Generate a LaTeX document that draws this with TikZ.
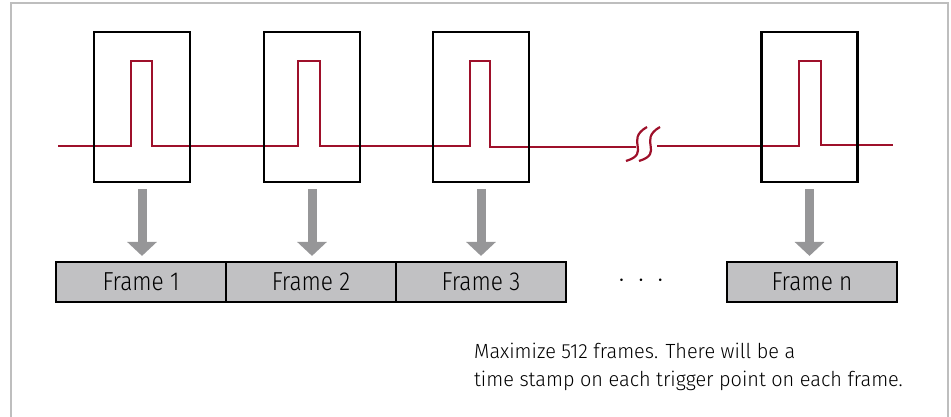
\documentclass[tikz,border=0pt]{standalone}
\usepackage{fontspec}
\setmainfont{Fira Sans Light}[FakeStretch=0.97]
\newfontfamily\framefont{Fira Sans Light}[FakeStretch=0.87]
\usetikzlibrary{arrows.meta}
\definecolor{sigred}{RGB}{158,16,42}
\definecolor{arrgray}{RGB}{150,150,152}
\definecolor{framefill}{RGB}{193,193,195}
\definecolor{bordergray}{RGB}{190,190,190}
\tikzset{
  winbox/.style={draw=black, line width=2.6pt, minimum width=96pt, minimum height=150pt, inner sep=0pt},
  framebox/.style={draw=black, line width=2.2pt, fill=framefill, minimum width=170pt, minimum height=40pt, inner sep=0pt, font=\framefont\fontsize{26}{28}\selectfont},
  sig/.style={draw=sigred, line width=2.4pt},
  downarrow/.style={draw=arrgray, line width=9pt, -{Triangle[width=29pt,length=14pt]}},
  caption/.style={anchor=base west, inner sep=0pt, font=\fontsize{20.5}{28}\selectfont}
}
\begin{document}
\begin{tikzpicture}[x=1pt,y=-1pt]
\useasboundingbox (0,0) rectangle (951,416);
\draw[bordergray, line width=2pt] (11,418) -- (11,3) -- (948,3) -- (948,418);
% signal
\draw[sig] (58,146) -- (131,146) -- (131,61) -- (152,61) -- (152,146) -- (298,146) -- (298,61) -- (320,61) -- (320,146)
  -- (470,146) -- (470,61) -- (490,61) -- (490,147) -- (636,147);
\draw[sig] (657,146) -- (799,146) -- (799,61) -- (821,61) -- (821,145) -- (893,145);
% break symbol
\draw[sigred, line width=2.2pt] (626,161) .. controls (652,153) and (624,140) .. (647,127);
\draw[sigred, line width=2.2pt] (639,161) .. controls (665,153) and (637,140) .. (660,127);
% window boxes
\node[winbox] (b1) at (142,107) {};
\node[winbox] (b2) at (312,107) {};
\node[winbox] (b3) at (481,107) {};
\node[winbox] (b4) at (809.5,107) {};
% frames
\node[framebox] (f1) at (141,282) {Frame 1};
\node[framebox] (f2) at (311,282) {Frame 2};
\node[framebox] (f3) at (481,282) {Frame 3};
\node[framebox] (fn) at (812,282) {Frame n};
\node (dots) at (641,281) {\fontsize{24}{26}\selectfont$\cdot\;\cdot\;\cdot$};
% arrows
\foreach \b/\f in {b1/f1,b2/f2,b3/f3,b4/fn}
  \draw[downarrow] ([yshift=-6pt]\b.south) -- ([yshift=5pt]\b.south |- \f.north);
% caption
\node[caption] (cap1) at (474,358) {Maximize 512 frames. There will be a};
\node[caption] (cap2) at (474,386) {time stamp on each trigger point on each frame.};
\end{tikzpicture}
\end{document}
